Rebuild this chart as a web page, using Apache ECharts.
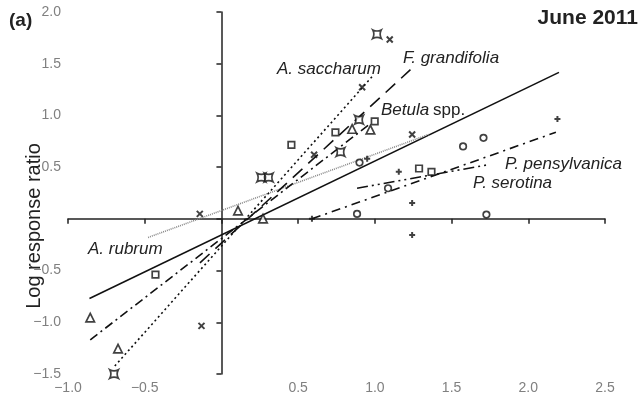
<!DOCTYPE html>
<html>
<head>
<meta charset="utf-8">
<script src="https://cdn.jsdelivr.net/npm/echarts@6/dist/echarts.min.js"></script>
<style>
html,body{margin:0;padding:0;background:#fff;}
#chart{width:641px;height:395px;}
</style>
</head>
<body>
<div id="chart"></div>
<script>
// Axis ticks
const xTicks = [-1.0, -0.5, 0.5, 1.0, 1.5, 2.0, 2.5];
const yTicks = [-1.5, -1.0, -0.5, 0.5, 1.0, 1.5, 2.0];

// Species observations (x, log response ratio)
const rubrumX = [-0.43, 0.456, 0.743, 0.999, 1.288, 1.369];
const rubrumY = [-0.54, 0.716, 0.837, 0.942, 0.487, 0.455];
const saccharumX = [-0.70, 0.26, 0.308, 0.776, 0.897, 1.014];
const saccharumY = [-1.50, 0.40, 0.40, 0.646, 0.958, 1.786];
const betulaX = [-0.855, -0.674, 0.108, 0.271, 0.852, 0.971];
const betulaY = [-0.955, -1.255, 0.079, 0.003, 0.869, 0.862];
const grandifoliaX = [-0.141, -0.13, 0.604, 0.917, 1.097, 1.243];
const grandifoliaY = [0.048, -1.035, 0.62, 1.273, 1.734, 0.815];
const pensylvanicaX = [0.59, 0.95, 1.156, 1.243, 1.243, 2.19];
const pensylvanicaY = [0.0, 0.58, 0.455, 0.153, -0.157, 0.965];
const serotinaX = [0.884, 0.90, 1.086, 1.575, 1.708, 1.727];
const serotinaY = [0.048, 0.544, 0.296, 0.70, 0.783, 0.041];

// Fitted regression lines (endpoints)
const overallFitX = [-0.86, 2.2];
const overallFitY = [-0.77, 1.416];
const rubrumFitX = [-0.478, 1.358];
const rubrumFitY = [-0.18, 0.82];
const saccharumFitX = [-0.695, 0.984];
const saccharumFitY = [-1.423, 1.378];
const betulaFitX = [-0.855, 0.97];
const betulaFitY = [-1.17, 0.92];
const grandifoliaFitX = [-0.14, 1.232];
const grandifoliaFitY = [-0.425, 1.442];
const pensylvanicaFitX = [0.59, 2.18];
const pensylvanicaFitY = [0.0, 0.837];
const serotinaFitX = [0.884, 1.727];
const serotinaFitY = [0.296, 0.52];

const FONT = "'Liberation Sans', Arial, Helvetica, sans-serif";
const zip = (a, b) => a.map((v, i) => [v, b[i]]);

const concaveSquare = 'path://M0,0 Q5,2.6 10,0 Q7.4,5 10,10 Q5,7.4 0,10 Q2.6,5 0,0 Z';
const crossSym = 'path://M0,0 L10,10 M10,0 L0,10';
const plusSym = 'path://M5,0 L5,10 M0,5 L10,5';

function scatter(name, xs, ys, symbol, size, filled, bw) {
  return {
    name, type: 'scatter', data: zip(xs, ys), symbol, symbolSize: size, z: 5,
    itemStyle: { color: filled ? '#fff' : 'transparent', borderColor: '#111', borderWidth: bw },
    emphasis: { disabled: true }
  };
}
function fit(name, xs, ys, color, width, type) {
  return {
    name, type: 'line', data: zip(xs, ys), symbol: 'none', z: 3,
    lineStyle: { color, width, type }, emphasis: { disabled: true }
  };
}
const fmt = v => {
  const r = Math.round(v * 10) / 10;
  if (Math.abs(r) < 1e-9) return '';
  return (r < 0 ? '\u2212' : '') + Math.abs(r).toFixed(1);
};

const chart = echarts.init(document.getElementById('chart'), null, { renderer: 'canvas' });
chart.setOption({
  animation: false,
  backgroundColor: '#fff',
  grid: { left: 68, top: 12, width: 537, height: 366 },
  xAxis: {
    type: 'value', min: xTicks[0], max: xTicks[xTicks.length - 1], interval: 0.5,
    axisLine: { onZero: true, lineStyle: { color: '#222', width: 1.5 } },
    axisTick: { show: true, length: 5, lineStyle: { color: '#222', width: 1.5 } },
    axisLabel: { formatter: fmt, color: '#808080', fontSize: 14, fontFamily: FONT, margin: 7 },
    splitLine: { show: false }
  },
  yAxis: {
    type: 'value', min: yTicks[0], max: yTicks[yTicks.length - 1], interval: 0.5,
    axisLine: { onZero: true, lineStyle: { color: '#222', width: 1.5 } },
    axisTick: { show: true, length: 5, lineStyle: { color: '#222', width: 1.5 } },
    axisLabel: { formatter: fmt, color: '#808080', fontSize: 14, fontFamily: FONT, margin: 7 },
    splitLine: { show: false }
  },
  series: [
    fit('All species', overallFitX, overallFitY, '#111', 1.6, 'solid'),
    fit('A. rubrum fit', rubrumFitX, rubrumFitY, '#888', 1.6, [1, 1]),
    fit('A. saccharum fit', saccharumFitX, saccharumFitY, '#111', 1.6, [2, 3]),
    fit('Betula fit', betulaFitX, betulaFitY, '#111', 1.6, [9, 4, 2, 4]),
    fit('F. grandifolia fit', grandifoliaFitX, grandifoliaFitY, '#111', 1.6, [13, 8]),
    fit('P. pensylvanica fit', pensylvanicaFitX, pensylvanicaFitY, '#111', 1.6, [9, 5, 2, 5]),
    fit('P. serotina fit', serotinaFitX, serotinaFitY, '#111', 1.6, [11, 4, 2, 4, 2, 4]),
    scatter('A. rubrum', rubrumX, rubrumY, 'rect', 6.5, true, 1.7),
    scatter('A. saccharum', saccharumX, saccharumY, concaveSquare, 8.5, true, 1.7),
    scatter('Betula spp.', betulaX, betulaY, 'triangle', 8.5, true, 1.7),
    scatter('F. grandifolia', grandifoliaX, grandifoliaY, crossSym, 6, false, 2),
    scatter('P. pensylvanica', pensylvanicaX, pensylvanicaY, plusSym, 6, false, 2),
    scatter('P. serotina', serotinaX, serotinaY, 'circle', 6.5, true, 1.7)
  ],
  graphic: [
    { type: 'text', left: 9, top: 11, style: { text: '(a)', font: 'bold 19px ' + FONT, fill: '#222' } },
    { type: 'text', right: 3, top: 8, style: { text: 'June 2011', font: 'bold 21px ' + FONT, fill: '#222' } },
    { type: 'text', x: 34, y: 226, rotation: Math.PI / 2,
      style: { text: 'Log response ratio', font: '20px ' + FONT, fill: '#222', align: 'center', verticalAlign: 'middle' } },
    { type: 'text', x: 277, y: 69, style: { text: 'A. saccharum', font: 'italic 17px ' + FONT, fill: '#222', verticalAlign: 'middle' } },
    { type: 'text', x: 403, y: 58, style: { text: 'F. grandifolia', font: 'italic 17px ' + FONT, fill: '#222', verticalAlign: 'middle' } },
    { type: 'text', x: 381, y: 110, style: { text: 'Betula', font: 'italic 17px ' + FONT, fill: '#222', verticalAlign: 'middle' } },
    { type: 'text', x: 433, y: 110, style: { text: 'spp.', font: '17px ' + FONT, fill: '#222', verticalAlign: 'middle' } },
    { type: 'text', x: 505, y: 164, style: { text: 'P. pensylvanica', font: 'italic 17px ' + FONT, fill: '#222', verticalAlign: 'middle' } },
    { type: 'text', x: 473, y: 183, style: { text: 'P. serotina', font: 'italic 17px ' + FONT, fill: '#222', verticalAlign: 'middle' } },
    { type: 'text', x: 88, y: 249, style: { text: 'A. rubrum', font: 'italic 17px ' + FONT, fill: '#222', verticalAlign: 'middle' } }
  ]
});
</script>
</body>
</html>
